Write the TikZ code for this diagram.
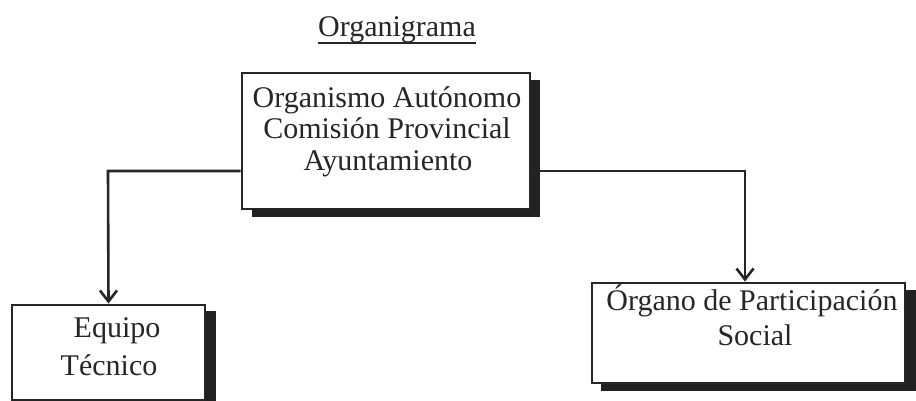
\documentclass[tikz,border=0pt]{standalone}
\usepackage{fontspec}
\setmainfont{Liberation Serif}
\usetikzlibrary{arrows.meta,calc}
\definecolor{inkc}{HTML}{262626}
\definecolor{shadc}{HTML}{222222}
\begin{document}
\begin{tikzpicture}[x=1pt,y=-1pt,
  boxnode/.style={draw=inkc,line width=2.8pt,fill=white,inner sep=0pt},
  txt/.style={inner sep=0pt,anchor=base,text=inkc,font=\fontsize{30}{32}\selectfont},
  conn/.style={draw=inkc,line width=2.6pt,-{Straight Barb[length=11pt,width=17pt,line width=2.6pt]}}]
\useasboundingbox (0,0) rectangle (916,401);
% title
\node[txt] (title) at (397,37) {Organigrama};
\draw[inkc,line width=2pt] ($(title.base west)+(0,6)$) -- ($(title.base east)+(0,6)$);
% shadows
\fill[shadc] (252,80) rectangle (540,217);
\fill[shadc] (22,311) rectangle (216,410);
\fill[shadc] (601,290) rectangle (916,391);
% boxes
\node[boxnode,minimum width=288pt,minimum height=136pt] (top) at (386,141) {};
\node[boxnode,minimum width=193pt,minimum height=95pt] (equipo) at (108.5,352.5) {};
\node[boxnode,minimum width=313pt,minimum height=100pt] (organo) at (748.5,333) {};
% texts
\node[txt] (t1) at (387,108) {Organismo Autónomo};
\node[txt] (t2) at (387,139) {Comisión Provincial};
\node[txt] (t3) at (388,171) {Ayuntamiento};
\node[txt] (e1) at (117,337) {Equipo};
\node[txt] (e2) at (109,375) {Técnico};
\node[txt] (o1) at (752,310) {Órgano de Participación};
\node[txt] (o2) at (755,345) {Social};
% connectors
\coordinate (lj) at (108,171);
\coordinate (rj) at (745,171);
\draw[conn] (top.west |- lj) -- (lj) -- (equipo.north);
\draw[conn] (top.east |- rj) -- (rj) -- (rj |- organo.north);
\end{tikzpicture}
\end{document}
